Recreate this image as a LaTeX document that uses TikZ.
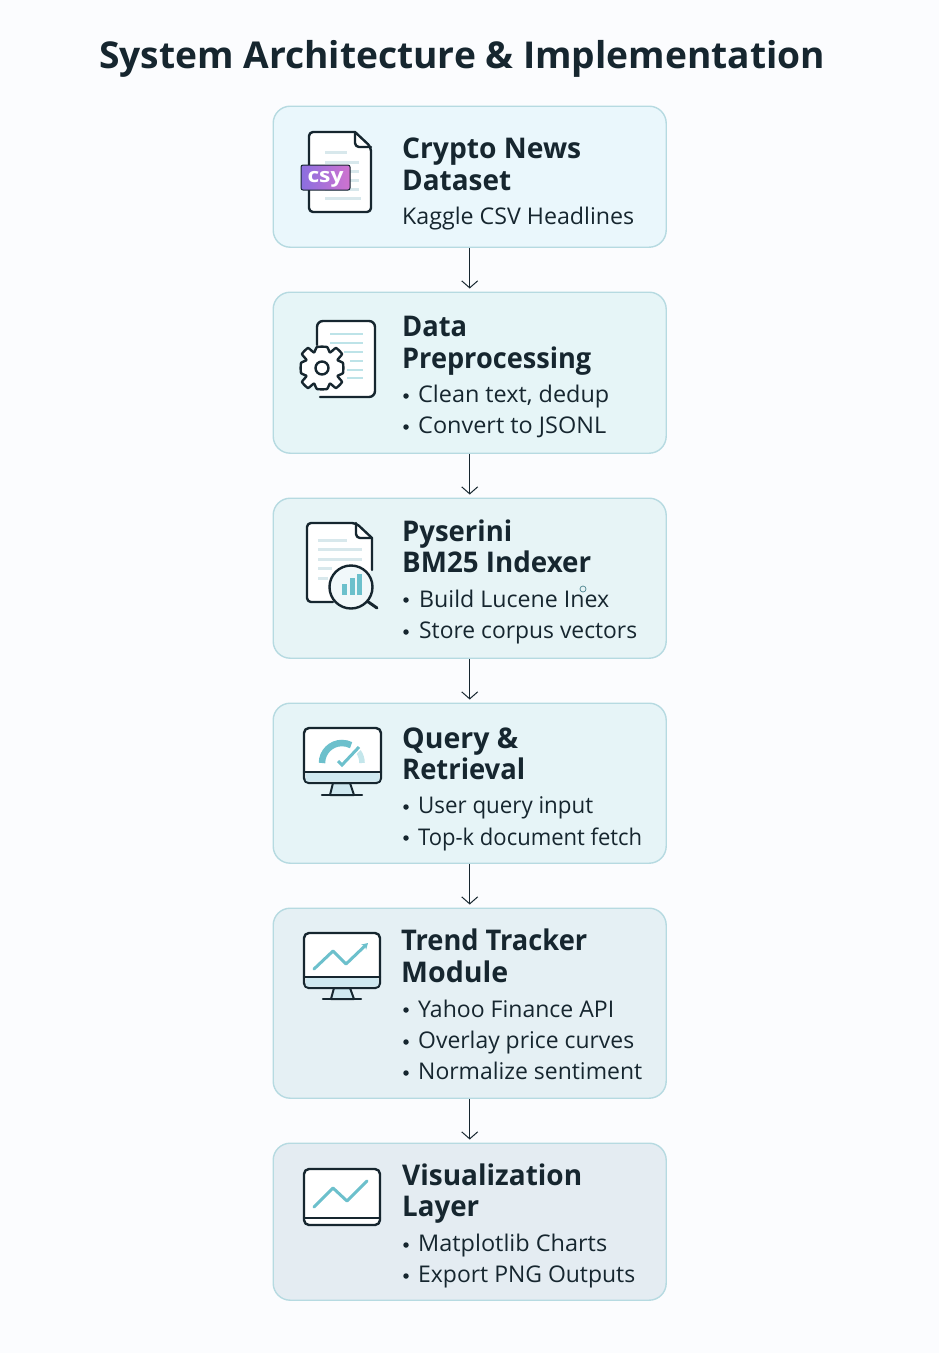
\documentclass[tikz,border=0pt]{standalone}
\usepackage{fontspec}
\usepackage{graphicx}
\setmainfont{Open Sans}
\usetikzlibrary{arrows.meta}
\definecolor{ink}{HTML}{16262F}
\definecolor{edge}{HTML}{B6DAE1}
\definecolor{teal}{HTML}{6CC0CC}
\definecolor{paleline}{HTML}{D8E8EC}
\definecolor{strip}{HTML}{CFE8F0}
\definecolor{bgc}{HTML}{FBFCFE}
\definecolor{fa}{HTML}{EAF7FC}
\definecolor{fb}{HTML}{E6F5F7}
\definecolor{fc}{HTML}{E7F4F6}
\definecolor{fd}{HTML}{E6F4F7}
\definecolor{fe}{HTML}{E5F0F4}
\definecolor{ff}{HTML}{E4ECF2}
\definecolor{badgel}{HTML}{8B6FE0}
\definecolor{badger}{HTML}{CF72CF}
\newcommand{\fit}[2]{\resizebox{#1pt}{\height}{#2}}
\tikzset{
  x=1pt,y=-1pt,
  card/.style={draw=edge,line width=1.4pt,rounded corners=17pt,minimum width=393pt,anchor=north west,inner sep=0pt},
  flow/.style={draw=ink,line width=1pt,-{Straight Barb[length=7pt,width=16pt,line width=1pt]},shorten >=3pt},
  head/.style={anchor=base west,inner sep=0pt,font=\fontsize{28.5}{30}\selectfont\bfseries,text=ink},
  item/.style={anchor=base west,inner sep=0pt,font=\fontsize{23}{25}\selectfont,text=ink},
  dot/.style={fill=ink,draw=none,circle,minimum size=5.5pt,inner sep=0pt},
  icon/.style={draw=ink,line width=2.4pt,line join=round,line cap=round},
  pale/.style={draw=paleline,line width=3pt},
  tealpale/.style={draw=teal!45!white,line width=2.8pt},
  trend/.style={draw=teal,line width=3pt,line cap=round,line join=round},
}
\begin{document}
\begin{tikzpicture}
\useasboundingbox (0,0) rectangle (939,1353);
\fill[bgc] (0,0) rectangle (939,1353);
\node[anchor=base west,inner sep=0pt,font=\fontsize{37}{40}\selectfont\bfseries,text=ink] (title) at (99,68) {\fit{726}{System Architecture \& Implementation}};

\node[card,fill=fa,minimum height=141pt] (c1) at (272.5,105.5) {};
\node[card,fill=fb,minimum height=161pt] (c2) at (272.5,291.5) {};
\node[card,fill=fc,minimum height=160pt] (c3) at (272.5,497.5) {};
\node[card,fill=fd,minimum height=160pt] (c4) at (272.5,702.5) {};
\node[card,fill=fe,minimum height=190pt] (c5) at (272.5,907.5) {};
\node[card,fill=ff,minimum height=157pt] (c6) at (272.5,1142.5) {};

\draw[flow] (c1.south) -- (c2.north);
\draw[flow] (c2.south) -- (c3.north);
\draw[flow] (c3.south) -- (c4.north);
\draw[flow] (c4.south) -- (c5.north);
\draw[flow] (c5.south) -- (c6.north);

% card 1
\node[head] (h1a) at (402,158) {\fit{179}{Crypto News}};
\node[head] (h1b) at (402,190) {\fit{109}{Dataset}};
\node[item] (t1a) at (402,224) {\fit{232}{Kaggle CSV Headlines}};
% card 2
\node[head] (h2a) at (402,336) {\fit{65}{Data}};
\node[head] (h2b) at (402,368) {\fit{189}{Preprocessing}};
\node[dot] (d2a) at (406,396) {};
\node[item] (t2a) at (418,402) {\fit{191}{Clean text, dedup}};
\node[dot] (d2b) at (406,427) {};
\node[item] (t2b) at (418,433) {\fit{188}{Convert to JSONL}};
% card 3
\node[head] (h3a) at (402,541) {\fit{110}{Pyserini}};
\node[head] (h3b) at (402,572) {\fit{189}{BM25 Indexer}};
\node[dot] (d3a) at (406,600) {};
\node[item] (t3a) at (419,607) {\fit{190}{Build Lucene Inex}};
\node[dot] (d3b) at (406,632) {};
\node[item] (t3b) at (419,638) {\fit{218}{Store corpus vectors}};
\draw[teal!60!ink,line width=.7pt] (583,589) circle (3pt);
% card 4
\node[head] (h4a) at (402,748) {\fit{116}{Query \&}};
\node[head] (h4b) at (402,779) {\fit{123}{Retrieval}};
\node[dot] (d4a) at (406,807) {};
\node[item] (t4a) at (418,813) {\fit{175}{User query input}};
\node[dot] (d4b) at (406,838) {};
\node[item] (t4b) at (418,845) {\fit{224}{Top-k document fetch}};
% card 5
\node[head] (h5a) at (401,950) {\fit{186}{Trend Tracker}};
\node[head] (h5b) at (401,982) {\fit{107}{Module}};
\node[dot] (d5a) at (406,1010) {};
\node[item] (t5a) at (418,1017) {\fit{196}{Yahoo Finance API}};
\node[dot] (d5b) at (406,1042) {};
\node[item] (t5b) at (418,1048) {\fit{216}{Overlay price curves}};
\node[dot] (d5c) at (406,1073) {};
\node[item] (t5c) at (418,1079) {\fit{224}{Normalize sentiment}};
% card 6
\node[head] (h6a) at (402,1185) {\fit{180}{Visualization}};
\node[head] (h6b) at (402,1216) {\fit{77}{Layer}};
\node[dot] (d6a) at (406,1245) {};
\node[item] (t6a) at (418,1251) {\fit{189}{Matplotlib Charts}};
\node[dot] (d6b) at (406,1276) {};
\node[item] (t6b) at (418,1282) {\fit{217}{Export PNG Outputs}};

% icon 1: file with badge
\filldraw[icon,fill=white,rounded corners=4pt] (355,132) -- (309,132) -- (309,212) -- (371,212) -- (371,147) [sharp corners] -- cycle;
\draw[icon,rounded corners=4pt] (355,132) -- (355,147) -- (371,147);
\foreach \yy/\xa/\xb in {152/325/347,162/325/359,171/325/359,180/325/359,189/325/359,198/325/361}
  \draw[pale] (\xa,\yy) -- (\xb,\yy);
\shade[left color=badgel,right color=badger,rounded corners=2pt,draw=ink,line width=1pt] (301,165) rectangle (350,190);
\node[inner sep=0pt,text=white,font=\fontsize{20}{20}\selectfont\bfseries] (badge) at (325.5,179) {\fit{36}{csy}};

% icon 2: document with gear
\draw[icon,fill=white,rounded corners=6pt] (317,345) -- (317,321) -- (375,321) -- (375,397) -- (320,397);
\foreach \yy/\xa in {334/330,343/330,352/344,361/350,370/347,378/347}
  \draw[tealpale] (\xa,\yy) -- (363,\yy);
\filldraw[icon,fill=white]
  plot[smooth cycle,tension=0.3] coordinates {
   (322+5,368-21) (322+8,368-15.5) (322+14,368-20) (322+20,368-14) (322+15.5,368-8) (322+21,368-5)
   (322+21,368+5) (322+15.5,368+8) (322+20,368+14) (322+14,368+20) (322+8,368+15.5) (322+5,368+21)
   (322-5,368+21) (322-8,368+15.5) (322-14,368+20) (322-20,368+14) (322-15.5,368+8) (322-21,368+5)
   (322-21,368-5) (322-15.5,368-8) (322-20,368-14) (322-14,368-20) (322-8,368-15.5) (322-5,368-21)};
\draw[icon] (322,368) circle (6.5pt);

% icon 3: document with magnifier
\draw[icon,fill=white,rounded corners=4pt] (333,602) -- (307,602) -- (307,523) -- (356,523) [sharp corners] -- (372,538) -- (372,570);
\draw[icon,rounded corners=4pt] (356,523) -- (356,538) -- (372,538);
\foreach \yy/\xa/\xb in {540/318/347,549/318/362,559/318/362,568/318/332,578/318/328}
  \draw[pale] (\xa,\yy) -- (\xb,\yy);
\draw[icon,line width=3pt] (367,601) -- (377,608);
\filldraw[icon,fill=fc!60!white,line width=2.4pt] (351,587) circle (21.5pt);
\fill[teal] (342,584) rectangle (346.5,595);
\fill[teal] (349.5,578) rectangle (354.5,595);
\fill[teal] (357,574) rectangle (361.5,595);

% icon 4: monitor with gauge
\draw[icon,fill=strip,line width=2pt] (333,783) -- (330,795) -- (354,795) -- (350,783) -- cycle;
\draw[icon] (322,795) -- (362,795);
\filldraw[icon,fill=white,rounded corners=5pt] (304,728) rectangle (381,783);
\fill[strip,rounded corners=2pt] (305.5,773) rectangle (379.5,781.5);
\draw[icon] (304,772) -- (381,772);
\draw[teal,line width=6.5pt] (322,763) arc[start angle=180,end angle=297,radius=20];
\draw[teal!40!white,line width=5.5pt] (358.4,751.5) arc[start angle=-35,end angle=0,radius=20];
\draw[white,line width=6pt] (338,761) -- (342,765) -- (359,747);
\draw[teal,line width=3pt] (338,761) -- (342,765) -- (359,747);

% icon 5: monitor with trend and arrowhead
\draw[icon,fill=strip,line width=2pt] (334,988) -- (331,999) -- (354,999) -- (350,988) -- cycle;
\draw[icon] (323,999) -- (361,999);
\filldraw[icon,fill=white,rounded corners=5pt] (304,933) rectangle (380,988);
\fill[strip,rounded corners=2pt] (305.5,978) rectangle (378.5,986.5);
\draw[icon] (304,977) -- (380,977);
\draw[trend,-{Stealth[length=6pt,width=7pt]}] (314,969) -- (333,951) -- (346,964) -- (368,943);

% icon 6: tablet with trend
\filldraw[icon,fill=white,rounded corners=5pt] (304,1169) rectangle (380,1225);
\draw[icon] (304,1218) -- (380,1218);
\draw[trend] (314,1207) -- (333,1188) -- (347,1201) -- (367,1181);
\end{tikzpicture}
\end{document}
